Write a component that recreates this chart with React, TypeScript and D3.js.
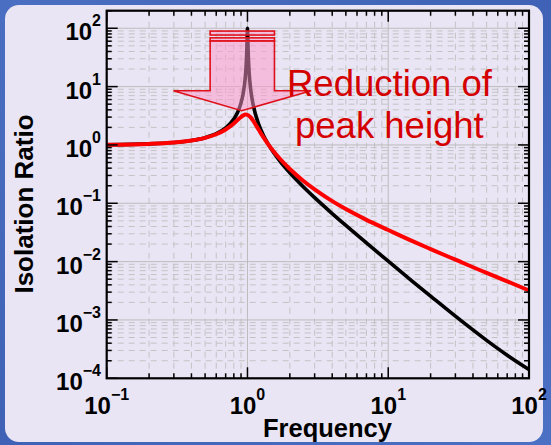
import React from "react";
import * as d3 from "d3";

// Frequency ratio samples and isolation ratio values
const blackFreq = [0.1, 0.2, 0.3, 0.4, 0.5, 0.6, 0.7, 0.8, 0.85, 0.9, 0.93, 0.95, 0.97, 0.98, 0.99, 0.995, 1.0, 1.005, 1.01, 1.02, 1.03, 1.05, 1.07, 1.1, 1.2, 1.3, 1.4, 1.5, 1.7, 2, 2.5, 3, 4, 5, 7, 10, 15, 20, 30, 50, 70, 100];
const blackVals = [1.010, 1.042, 1.099, 1.19, 1.333, 1.563, 1.961, 2.778, 3.604, 5.257, 7.385, 10.21, 16.7, 24.5, 45.0, 71.0, 100.0, 70.4, 44.5, 24.0, 16.19, 9.71, 6.9, 4.762, 2.273, 1.449, 1.042, 0.8, 0.529, 0.3334, 0.1905, 0.125, 0.0667, 0.0417, 0.0209, 0.01015, 0.00451, 0.00256, 0.00116, 0.000447, 0.000249, 0.000141];

const redFreq = [0.1, 0.2, 0.3, 0.4, 0.5, 0.6, 0.7, 0.8, 0.85, 0.9, 0.93, 0.97, 1.0, 1.05, 1.1, 1.2, 1.3, 1.4, 1.5, 1.7, 2, 2.5, 3, 4, 5, 7, 10, 15, 20, 30, 50, 70, 100];
const redVals = [1.010, 1.042, 1.098, 1.187, 1.321, 1.524, 1.84, 2.337, 2.667, 3.016, 3.192, 3.314, 3.281, 3.003, 2.586, 1.834, 1.344, 1.034, 0.828, 0.579, 0.387, 0.241, 0.173, 0.109, 0.0795, 0.052, 0.0348, 0.0222, 0.0164, 0.0108, 0.0064, 0.0046, 0.0032];

const xTickExps = [-1, 0, 1, 2];
const yTickExps = [-4, -3, -2, -1, 0, 1, 2];
const xLabel = "Frequency";
const yLabel = "Isolation Ratio";
const noteLines = ["Reduction of", "peak height"];

// Block arrow annotation (data coordinates: frequency, ratio)
const arrowShaftX = [0.543, 1.555];
const arrowHeadX = [0.298, 2.834];
const arrowTipX = 0.91;
const arrowStripes = [[89.5, 76.5], [68.5, 60.5]];
const arrowBodyTopY = 60.5;
const arrowHeadBaseY = 8.49;
const arrowTipY = 3.86;

const W = 551, H = 445;
const L = 106.7, R = 529, T = 10.7, B = 378.3;
const FONT = "'Liberation Sans', Arial, Helvetica, sans-serif";

export default function App() {
  const x = d3.scaleLog().domain([0.1, 100]).range([L, R]);
  const y = d3.scaleLog().domain([1e-4, 200]).range([B, T]);

  const line = d3.line<[number, number]>()
    .x(d => x(d[0]))
    .y(d => y(d[1]))
    .curve(d3.curveMonotoneX);

  const blackPts = blackFreq.map((f, i) => [f, blackVals[i]] as [number, number]);
  const redPts = redFreq.map((f, i) => [f, redVals[i]] as [number, number]);

  const xMinor: number[] = [];
  for (let e = -1; e < 2; e++) for (let k = 2; k <= 9; k++) xMinor.push(k * Math.pow(10, e));
  const yMinor: number[] = [];
  for (let e = -4; e < 3; e++) for (let k = 2; k <= 9; k++) {
    const v = k * Math.pow(10, e);
    if (v <= 200) yMinor.push(v);
  }

  const gridColor = "#c3c3c3";
  const majT = 11, minT = 5;

  const sx0 = x(arrowShaftX[0]), sx1 = x(arrowShaftX[1]);
  const arrowPath = [
    [sx0, y(arrowBodyTopY)], [sx1, y(arrowBodyTopY)], [sx1, y(arrowHeadBaseY)],
    [x(arrowHeadX[1]), y(arrowHeadBaseY)], [x(arrowTipX), y(arrowTipY)],
    [x(arrowHeadX[0]), y(arrowHeadBaseY)], [sx0, y(arrowHeadBaseY)]
  ];
  const arrowD = "M" + arrowPath.map(p => p.join(",")).join("L") + "Z";

  return (
    <svg width={W} height={H} style={{ position: "fixed", left: 0, top: 0 }} fontFamily={FONT}>
      <defs>
        <linearGradient id="bg" x1="0" y1="0" x2="1" y2="1">
          <stop offset="0" stopColor="#4a6fc2" />
          <stop offset="0.5" stopColor="#3f62b6" />
          <stop offset="1" stopColor="#4b70c4" />
        </linearGradient>
      </defs>
      <rect x={0} y={0} width={W} height={H} fill="url(#bg)" />
      <rect x={5} y={5} width={538} height={437} rx={14} fill="#e9e5f5" />

      {/* minor grid */}
      <g stroke={gridColor} strokeWidth={1} strokeDasharray="6,5" fill="none">
        {xMinor.map(v => <line key={"xm" + v} x1={x(v)} x2={x(v)} y1={T} y2={B} />)}
        {yMinor.map(v => <line key={"ym" + v} x1={L} x2={R} y1={y(v)} y2={y(v)} />)}
      </g>
      {/* major grid */}
      <g stroke="#bcbcbc" strokeWidth={1} fill="none">
        {xTickExps.slice(1, -1).map(e => <line key={"xg" + e} x1={x(Math.pow(10, e))} x2={x(Math.pow(10, e))} y1={T} y2={B} />)}
        {yTickExps.slice(1).map(e => <line key={"yg" + e} x1={L} x2={R} y1={y(Math.pow(10, e))} y2={y(Math.pow(10, e))} />)}
      </g>

      {/* curves */}
      <path d={line(blackPts) || ""} fill="none" stroke="#000" strokeWidth={3.6} strokeLinejoin="round" />
      <path d={line(redPts) || ""} fill="none" stroke="#ff0000" strokeWidth={4} strokeLinejoin="round" />

      {/* axes box and ticks */}
      <g stroke="#000" strokeWidth={1.5} fill="none">
        {xMinor.map(v => (
          <g key={"xt" + v}>
            <line x1={x(v)} x2={x(v)} y1={B} y2={B - minT} />
            <line x1={x(v)} x2={x(v)} y1={T} y2={T + minT} />
          </g>
        ))}
        {xTickExps.map(e => (
          <g key={"xT" + e}>
            <line x1={x(Math.pow(10, e))} x2={x(Math.pow(10, e))} y1={B} y2={B - majT} />
            <line x1={x(Math.pow(10, e))} x2={x(Math.pow(10, e))} y1={T} y2={T + majT} />
          </g>
        ))}
        {yMinor.map(v => (
          <g key={"yt" + v}>
            <line x1={L} x2={L + minT} y1={y(v)} y2={y(v)} />
            <line x1={R} x2={R - minT} y1={y(v)} y2={y(v)} />
          </g>
        ))}
        {yTickExps.map(e => (
          <g key={"yT" + e}>
            <line x1={L} x2={L + majT} y1={y(Math.pow(10, e))} y2={y(Math.pow(10, e))} />
            <line x1={R} x2={R - majT} y1={y(Math.pow(10, e))} y2={y(Math.pow(10, e))} />
          </g>
        ))}
      </g>
      <rect x={L} y={T} width={R - L} height={B - T} fill="none" stroke="#000" strokeWidth={2.2} />

      {/* arrow annotation */}
      <g fill="rgba(255,150,200,0.5)" stroke="#e0101a" strokeWidth={1.6} strokeLinejoin="miter">
        {arrowStripes.map((s, i) => (
          <rect key={"st" + i} x={sx0} y={y(s[0])} width={sx1 - sx0} height={y(s[1]) - y(s[0])} />
        ))}
        <path d={arrowD} />
      </g>

      {/* tick labels */}
      <g fontWeight="bold" fill="#000">
        {xTickExps.map(e => (
          <text key={"xl" + e} x={x(Math.pow(10, e))} y={414} textAnchor="middle" fontSize={24}>
            10<tspan dy={-14} fontSize={16}>{e < 0 ? "\u2212" + Math.abs(e) : String(e)}</tspan>
          </text>
        ))}
        {yTickExps.map(e => (
          <text key={"yl" + e} x={101} y={y(Math.pow(10, e)) + 12} textAnchor="end" fontSize={24}>
            10<tspan dy={-14} fontSize={16}>{e < 0 ? "\u2212" + Math.abs(e) : String(e)}</tspan>
          </text>
        ))}
        <text x={263} y={437} fontSize={25.5}>{xLabel}</text>
        <text transform={`translate(33,204) rotate(-90)`} textAnchor="middle" fontSize={26}>{yLabel}</text>
      </g>

      {/* annotation text */}
      <g fill="#d40000" fontSize={36.5}>
        <text x={287} y={96}>{noteLines[0]}</text>
        <text x={295} y={138}>{noteLines[1]}</text>
      </g>
    </svg>
  );
}
